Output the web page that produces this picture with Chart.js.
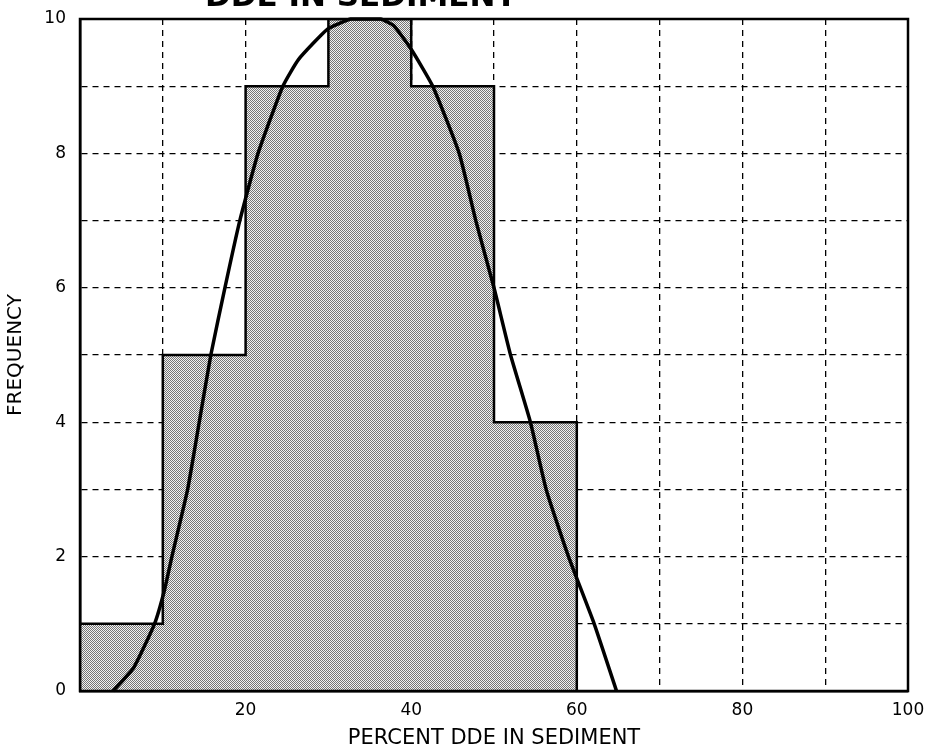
<!DOCTYPE html>
<html>
<head>
<meta charset="utf-8">
<script src="https://cdn.jsdelivr.net/npm/chart.js@4.4.1/dist/chart.umd.min.js"></script>
<style>
  html, body { margin: 0; padding: 0; background: #fff; overflow: hidden; }
  #wrap { width: 927px; height: 755px; }
  canvas { display: block; }
</style>
</head>
<body>
<div id="wrap"><canvas id="hist"></canvas></div>
<script>
// ---- data ----
const binCenters = [5, 15, 25, 35, 45, 55];
const frequency = [1, 5, 9, 10, 9, 4];
const binWidth = 10;

const curveX = [4, 6.5, 9, 10.2, 11.1, 13, 14.4, 15.8, 17.5, 19.3, 21.5, 24.5, 26.4, 29.9, 32.7, 34.3, 36.3, 37.9, 40, 42.6, 45.8, 47.8, 50, 52, 54.4, 56.3, 59, 62.1, 64.8];
const curveY = [0, 0.35, 1, 1.5, 2, 3, 4, 5, 6, 7, 8, 9, 9.4, 9.85, 10, 10, 10, 9.9, 9.55, 9, 8, 7, 6, 5, 4, 3, 2, 1, 0];

const xTickLabels = [20, 40, 60, 80, 100];
const yTickLabels = [0, 2, 4, 6, 8, 10];

// histogram outline (step line) built from the bins
const outline = [{ x: binCenters[0] - binWidth / 2, y: 0 }];
binCenters.forEach((c, i) => outline.push({ x: c - binWidth / 2, y: frequency[i] }));
const lastEdge = binCenters[binCenters.length - 1] + binWidth / 2;
outline.push({ x: lastEdge, y: frequency[frequency.length - 1] });
outline.push({ x: lastEdge, y: 0 });

// stipple fill like the scanned print
const pat = document.createElement('canvas');
pat.width = 2; pat.height = 2;
const pc = pat.getContext('2d');
pc.fillStyle = '#f2f2f2'; pc.fillRect(0, 0, 2, 2);
pc.fillStyle = '#767676'; pc.fillRect(0, 0, 1, 1); pc.fillRect(1, 1, 1, 1);
const stipple = pc.createPattern(pat, 'repeat');

const frame = {
  id: 'frame',
  afterDraw(chart) {
    const { ctx, chartArea: a } = chart;
    ctx.save();
    ctx.strokeStyle = '#000';
    ctx.lineWidth = 2.5;
    ctx.strokeRect(a.left, a.top, a.right - a.left, a.bottom - a.top);
    // cut-off heading at the very top
    ctx.fillStyle = '#000';
    ctx.font = 'bold 31px "DejaVu Sans"';
    ctx.textAlign = 'left';
    ctx.textBaseline = 'alphabetic';
    ctx.fillText('DDE IN SEDIMENT', 205, 6);
    ctx.restore();
  }
};

const font = { family: '"DejaVu Sans"', size: 17 };

new Chart(document.getElementById('hist'), {
  data: {
    datasets: [{
      type: 'line',
      data: curveX.map((x, i) => ({ x: x, y: curveY[i] })),
      borderColor: '#000',
      borderWidth: 3.5,
      pointRadius: 0,
      tension: 0.15,
      clip: false,
      order: 0
    }, {
      type: 'line',
      data: outline,
      stepped: 'before',
      borderColor: '#000',
      borderWidth: 2.5,
      pointRadius: 0,
      fill: false,
      order: 1
    }, {
      type: 'bar',
      data: binCenters.map((x, i) => ({ x: x, y: frequency[i] })),
      backgroundColor: stipple,
      borderWidth: 0,
      barPercentage: 1,
      categoryPercentage: 1,
      order: 2
    }]
  },
  options: {
    responsive: true,
    maintainAspectRatio: false,
    animation: false,
    layout: { padding: { top: 19, right: 19, left: 0, bottom: 0 } },
    plugins: { legend: { display: false }, tooltip: { enabled: false } },
    scales: {
      x: {
        type: 'linear',
        min: 0, max: 100,
        offset: false,
        z: 1,
        afterFit: s => { s.height = 64; s.paddingRight = 0; s.paddingLeft = 0; },
        ticks: {
          stepSize: 10,
          color: '#000',
          font: font,
          padding: 9,
          maxRotation: 0,
          autoSkip: false,
          callback: v => xTickLabels.includes(v) ? String(v) : ''
        },
        grid: { color: '#000', lineWidth: 1.3, drawTicks: false, offset: false },
        border: { display: true, color: '#000', width: 2.5, dash: [6, 5] },
        title: {
          display: true,
          text: 'PERCENT DDE IN SEDIMENT',
          color: '#000',
          font: { family: '"DejaVu Sans"', size: 21 },
          padding: { top: 2 }
        }
      },
      y: {
        min: 0, max: 10,
        z: 1,
        afterFit: s => { s.width = 80; s.paddingTop = 0; s.paddingBottom = 0; },
        ticks: {
          stepSize: 1,
          color: '#000',
          font: font,
          padding: 14,
          callback: v => yTickLabels.includes(v) ? String(v) : ''
        },
        grid: { color: '#000', lineWidth: 1.3, drawTicks: false },
        border: { display: true, color: '#000', width: 2.5, dash: [6, 5] },
        title: {
          display: true,
          text: 'FREQUENCY',
          color: '#000',
          font: { family: '"DejaVu Sans"', size: 20 },
          padding: { bottom: 2 }
        }
      }
    }
  },
  plugins: [frame]
});
</script>
</body>
</html>
